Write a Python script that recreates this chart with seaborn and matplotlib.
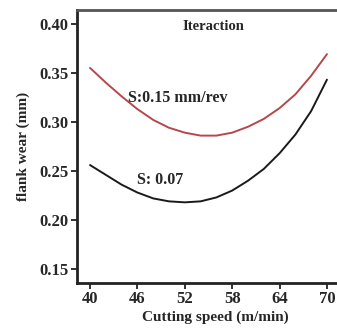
import matplotlib
matplotlib.use("Agg")
import matplotlib.pyplot as plt
import seaborn as sns
import pandas as pd

# --- data ---
speed = [40, 42, 44, 46, 48, 50, 52, 54, 56, 58, 60, 62, 64, 66, 68, 70]
wear_s015 = [0.355, 0.340, 0.326, 0.313, 0.302, 0.294, 0.289, 0.286,
             0.286, 0.289, 0.295, 0.303, 0.314, 0.328, 0.347, 0.369]
wear_s007 = [0.256, 0.246, 0.236, 0.228, 0.222, 0.219, 0.218, 0.219,
             0.223, 0.230, 0.240, 0.252, 0.268, 0.287, 0.311, 0.343]
series_names = ["S:0.15 mm/rev", "S: 0.07"]
x_ticks = [40, 46, 52, 58, 64, 70]
y_ticks = [0.15, 0.20, 0.25, 0.30, 0.35, 0.40]

df = pd.DataFrame({
    "speed": speed * 2,
    "wear": wear_s015 + wear_s007,
    "feed": [series_names[0]] * len(speed) + [series_names[1]] * len(speed),
})

# --- style ---
sns.set_style("ticks")
plt.rcParams["font.family"] = ["Liberation Serif", "DejaVu Serif"]
plt.rcParams["font.weight"] = "bold"

fig = plt.figure(figsize=(3.37, 3.31), dpi=100)
# axes run past the right edge, like the cropped original
ax = fig.add_axes([77 / 337, 48 / 331, 276 / 337, 273 / 331])

sns.lineplot(data=df, x="speed", y="wear", hue="feed",
             palette={series_names[0]: "#b5484a", series_names[1]: "#1a1a1a"},
             linewidth=1.4, legend=False, ax=ax)

# curve labels
ax.text(44.85, 0.324, series_names[0], ha="left", va="center",
        fontsize=11.5, fontweight="bold")
ax.text(45.9, 0.241, series_names[1], ha="left", va="center",
        fontsize=11.5, fontweight="bold")
ax.text(55.6, 0.397, "Iteraction", ha="center", va="center",
        fontsize=10.5, fontweight="bold")

# axes
ax.set_xlim(38.35, 73.3)
ax.set_ylim(0.1358, 0.414)
ax.set_xticks(x_ticks)
ax.set_yticks(y_ticks)
ax.set_yticklabels([f"{v:.2f}" for v in y_ticks])
ax.set_xlabel("Cutting speed (m/min)", fontsize=11, fontweight="bold", labelpad=2)
ax.set_ylabel("flank wear (mm)", fontsize=11, fontweight="bold", labelpad=7)
ax.tick_params(labelsize=12, length=4, width=1.3, pad=2, color="#222222")
for lab in ax.get_xticklabels() + ax.get_yticklabels():
    lab.set_fontweight("bold")

for side in ["left", "bottom", "top"]:
    ax.spines[side].set_linewidth(2)
    ax.spines[side].set_color("#222222")
ax.spines["top"].set_color("#555555")
ax.spines["right"].set_visible(False)

fig.savefig("out.png", dpi=100)
